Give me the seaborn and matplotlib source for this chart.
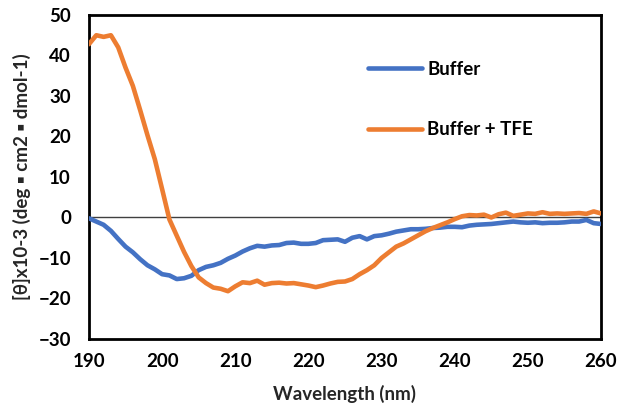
import matplotlib
matplotlib.use("Agg")
import matplotlib.pyplot as plt
import numpy as np
import pandas as pd
import seaborn as sns

# CD spectra, mean residue ellipticity (x10^-3) per nm
wavelength = list(range(190, 261))

buffer_vals = [
    -0.2, -1.0, -1.8, -3.3, -5.3, -7.2, -8.6, -10.3, -11.8, -12.8,
    -14.0, -14.3, -15.2, -15.0, -14.4, -13.0, -12.2, -11.8, -11.2, -10.2,
    -9.4, -8.4, -7.6, -7.0, -7.2, -6.9, -6.8, -6.3, -6.2, -6.5,
    -6.5, -6.3, -5.6, -5.5, -5.4, -6.0, -5.0, -4.6, -5.4, -4.6,
    -4.4, -4.0, -3.5, -3.2, -2.9, -2.9, -2.8, -2.6, -2.5, -2.3,
    -2.3, -2.4, -2.0, -1.8, -1.7, -1.6, -1.4, -1.2, -1.0, -1.2,
    -1.3, -1.2, -1.4, -1.3, -1.3, -1.2, -1.0, -1.0, -0.6, -1.4,
    -1.6,
]

tfe_vals = [
    42.8, 45.0, 44.6, 45.0, 42.0, 37.0, 32.5, 26.5, 20.3, 14.4,
    7.0, -0.5, -4.5, -8.5, -12.0, -14.8, -16.2, -17.3, -17.6, -18.2,
    -17.0, -16.0, -16.2, -15.6, -16.6, -16.2, -16.1, -16.3, -16.2, -16.5,
    -16.8, -17.2, -16.8, -16.3, -15.9, -15.8, -15.2, -14.0, -13.0, -11.8,
    -10.0, -8.6, -7.2, -6.4, -5.4, -4.4, -3.4, -2.6, -1.9, -1.2,
    -0.4, 0.3, 0.6, 0.5, 0.7, 0.0, 0.8, 1.2, 0.4, 0.7,
    1.0, 0.9, 1.3, 0.9, 1.0, 0.9, 1.0, 1.1, 0.9, 1.5,
    1.0,
]

series_names = ["Buffer", "Buffer + TFE"]
series_colors = ["#4472C4", "#ED7D31"]

x_ticks = list(range(190, 261, 10))
y_ticks = list(range(-30, 51, 10))

df = pd.concat([
    pd.DataFrame({"wl": wavelength, "theta": buffer_vals, "sample": series_names[0]}),
    pd.DataFrame({"wl": wavelength, "theta": tfe_vals, "sample": series_names[1]}),
])

sns.set_theme(style="white")
font_list = ["Lato", "DejaVu Sans"]
plt.rcParams["font.family"] = font_list
plt.rcParams["font.weight"] = "bold"

fig = plt.figure(figsize=(6.2, 4.12), dpi=100)
ax = fig.add_axes([0.1435, 0.1772, 0.8259, 0.7864])

ax.axhline(0, color="#404040", lw=1.0, zorder=1)

sns.lineplot(data=df, x="wl", y="theta", hue="sample",
             palette=dict(zip(series_names, series_colors)),
             linewidth=3.3, ax=ax, legend=False, zorder=3)
for ln in ax.get_lines()[1:]:
    ln.set_solid_joinstyle("round")
    ln.set_solid_capstyle("round")

ax.set_xlim(190, 260)
ax.set_ylim(-30, 50)
ax.set_xticks(x_ticks)
ax.set_yticks(y_ticks)
ax.tick_params(axis="both", length=0, labelsize=13.5, colors="black")
ax.tick_params(axis="y", pad=13)
ax.tick_params(axis="x", pad=10)
for lbl in ax.get_xticklabels() + ax.get_yticklabels():
    lbl.set_fontweight("bold")

for sp in ax.spines.values():
    sp.set_color("black")
    sp.set_linewidth(2.0)

ax.set_xlabel("Wavelength (nm)", fontsize=13.5, fontweight="bold", labelpad=11)
ax.set_ylabel("[θ]x10-3 (deg ▪ cm2 ▪ dmol-1)", fontsize=13.5, fontweight="bold", labelpad=5)

handles = [plt.Line2D([0], [0], color=c, lw=3.3, solid_capstyle="round") for c in series_colors]
leg = ax.legend(handles, series_names, loc="upper left", bbox_to_anchor=(0.512, 0.91),
                frameon=False, handlelength=2.9, handletextpad=0.25, labelspacing=2.3,
                fontsize=13.5)
for t in leg.get_texts():
    t.set_fontweight("bold")
    t.set_color("black")

fig.savefig("out.png", dpi=100)
